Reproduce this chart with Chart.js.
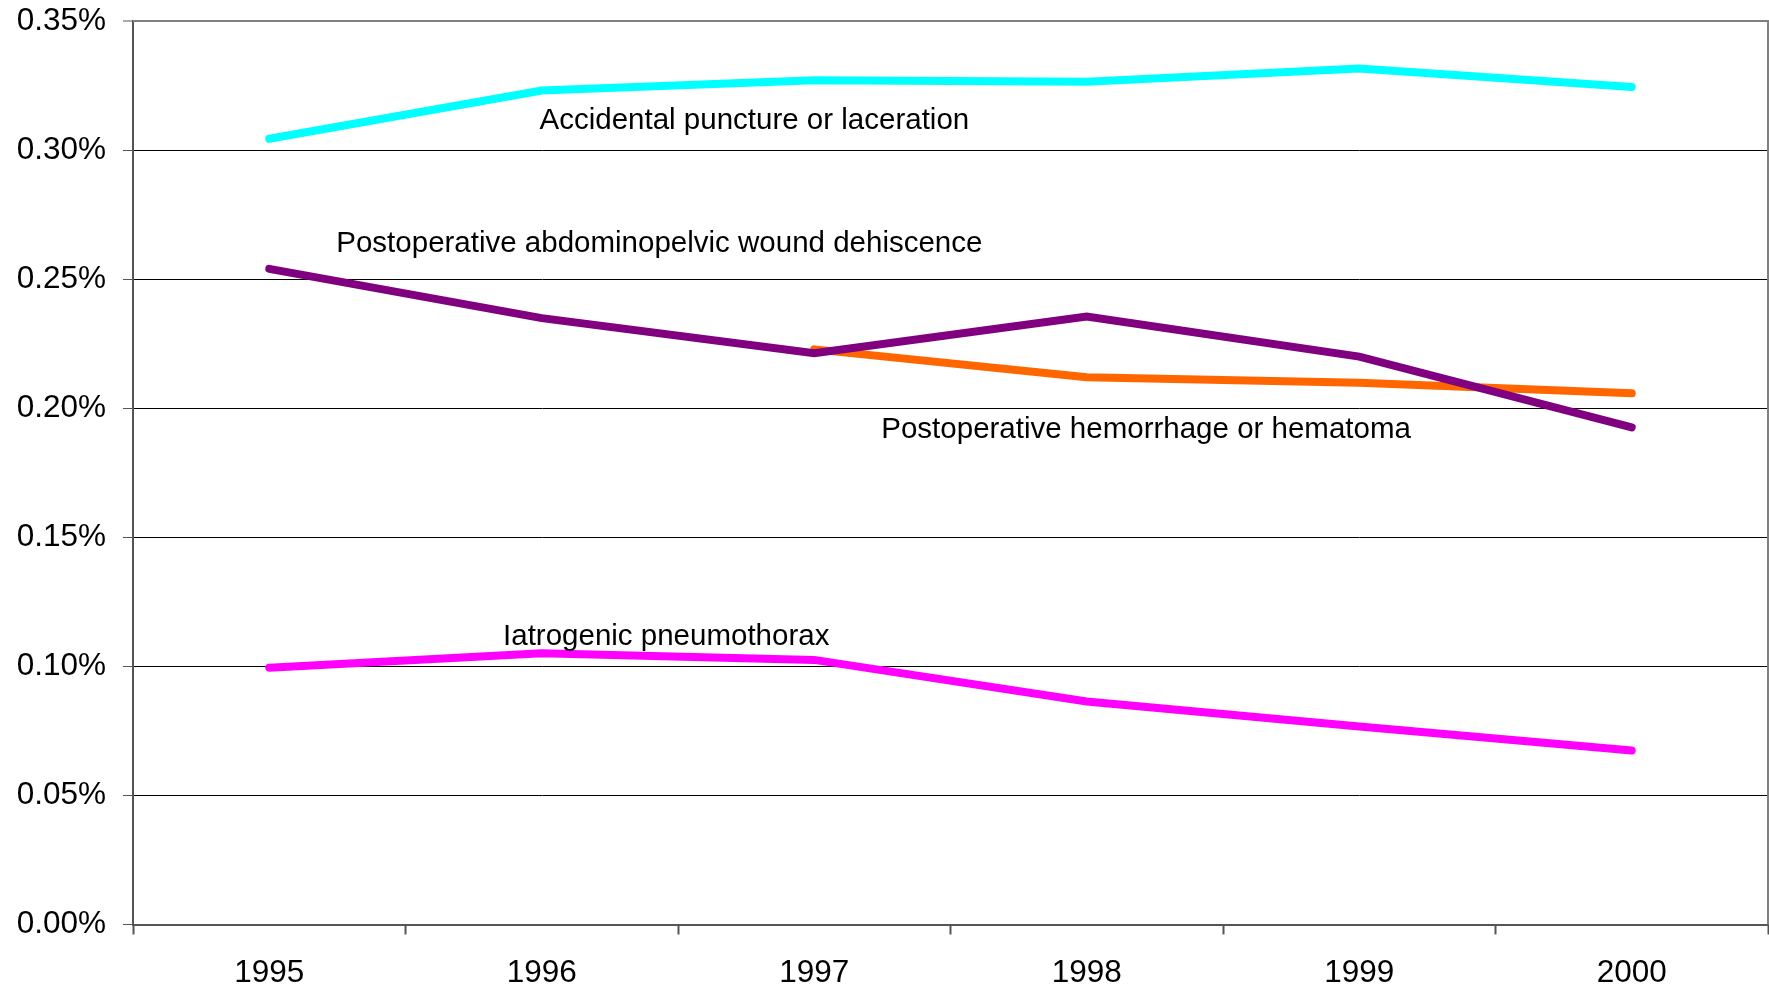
<!DOCTYPE html>
<html>
<head>
<meta charset="utf-8">
<script src="https://cdn.jsdelivr.net/npm/chart.js@4"></script>
<style>
  html, body { margin: 0; padding: 0; background: #fff; }
  canvas { display: block; }
</style>
</head>
<body>
<canvas id="chart" width="1769" height="987" style="width:1769px;height:987px"></canvas>
<script>
const years = ['1995', '1996', '1997', '1998', '1999', '2000'];

// rates in percent
const puncture = [0.3044, 0.3231, 0.3270, 0.3265, 0.3316, 0.3244];
const dehiscence = [0.2540, 0.2349, 0.2213, 0.2355, 0.2200, 0.1926];
const hemorrhage = [null, null, 0.2228, 0.2120, 0.2099, 0.2058];
const pneumothorax = [0.0995, 0.1051, 0.1025, 0.0864, 0.0767, 0.0674];

const yTicks = [0, 0.05, 0.10, 0.15, 0.20, 0.25, 0.30, 0.35];

// in-plot labels: text, category index (fractional), value at baseline
const labelTexts = [
    'Accidental puncture or laceration',
    'Postoperative abdominopelvic wound dehiscence',
    'Postoperative hemorrhage or hematoma',
    'Iatrogenic pneumothorax'
];
const labelIndex = [0.992, 0.246, 2.246, 0.858];
const labelValue = [0.3083, 0.2605, 0.1884, 0.1081];

const FONT = "Arial, 'Liberation Sans', sans-serif";

const seriesLabels = {
    id: 'seriesLabels',
    afterDatasetsDraw(chart) {
        const ctx = chart.ctx;
        const x = chart.scales.x;
        const y = chart.scales.y;
        ctx.save();
        ctx.font = '29.5px ' + FONT;
        ctx.fillStyle = '#000';
        ctx.textAlign = 'left';
        ctx.textBaseline = 'alphabetic';
        labelTexts.forEach((t, i) => {
            ctx.fillText(t, x.getPixelForValue(labelIndex[i]), y.getPixelForValue(labelValue[i]));
        });
        ctx.restore();
    }
};

const plotFrame = {
    id: 'plotFrame',
    beforeDatasetsDraw(chart) {
        const a = chart.chartArea;
        const ctx = chart.ctx;
        ctx.save();
        ctx.strokeStyle = '#808080';
        ctx.lineWidth = 2;
        ctx.beginPath();
        ctx.moveTo(a.left, a.top);
        ctx.lineTo(a.right, a.top);
        ctx.lineTo(a.right, a.bottom);
        ctx.stroke();
        ctx.restore();
    }
};

function lineSet(label, data, color, order) {
    return {
        label: label,
        data: data,
        borderColor: color,
        backgroundColor: color,
        borderWidth: 8,
        borderCapStyle: 'round',
        pointRadius: 0,
        pointHoverRadius: 0,
        fill: false,
        tension: 0,
        order: order
    };
}

new Chart(document.getElementById('chart'), {
    type: 'line',
    data: {
        labels: years,
        datasets: [
            lineSet(labelTexts[0], puncture, '#00FFFF', 4),
            lineSet(labelTexts[2], hemorrhage, '#FF6600', 3),
            lineSet(labelTexts[1], dehiscence, '#800080', 2),
            lineSet(labelTexts[3], pneumothorax, '#FF00FF', 1)
        ]
    },
    options: {
        responsive: false,
        animation: false,
        layout: { padding: { top: 21, right: 1, left: 0, bottom: 0 } },
        plugins: {
            legend: { display: false },
            tooltip: { enabled: false }
        },
        scales: {
            x: {
                offset: true,
                grid: {
                    offset: true,
                    drawOnChartArea: false,
                    drawTicks: true,
                    tickLength: 10,
                    tickColor: '#555',
                    tickWidth: 2
                },
                border: { color: '#555', width: 2 },
                ticks: {
                    color: '#000',
                    font: { family: FONT, size: 31.5 },
                    padding: 20,
                    maxRotation: 0
                },
                afterFit(scale) {
                    scale.height = 62.5;
                    scale.paddingLeft = 0;
                    scale.paddingRight = 0;
                }
            },
            y: {
                min: 0,
                max: 0.35,
                afterBuildTicks(scale) {
                    scale.ticks = yTicks.map(v => ({ value: v }));
                },
                grid: {
                    color: ctx => ctx.tick && ctx.tick.value === 0.35 ? '#808080' : '#000',
                    lineWidth: ctx => ctx.tick && ctx.tick.value === 0.35 ? 2 : 1,
                    drawTicks: true,
                    tickLength: 10,
                    tickColor: '#555',
                    tickWidth: 1
                },
                border: { color: '#555', width: 2 },
                ticks: {
                    color: '#000',
                    font: { family: FONT, size: 31.5 },
                    padding: 17,
                    callback: v => v.toFixed(2) + '%'
                },
                afterFit(scale) {
                    scale.width = 133;
                    scale.paddingTop = 0;
                    scale.paddingBottom = 0;
                }
            }
        }
    },
    plugins: [plotFrame, seriesLabels]
});
</script>
</body>
</html>
